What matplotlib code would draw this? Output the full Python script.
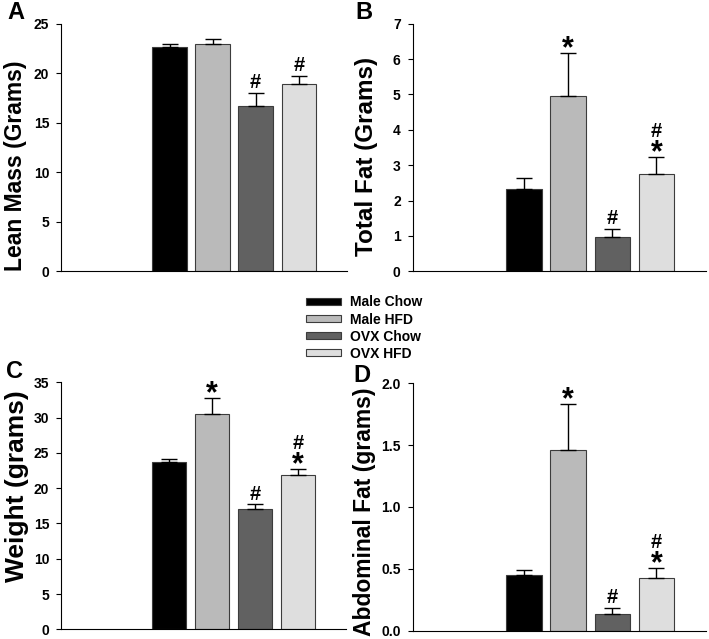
import matplotlib.pyplot as plt
from matplotlib.patches import Patch
import numpy as np

plt.rcParams['font.family'] = ['Liberation Sans', 'DejaVu Sans']
plt.rcParams['font.weight'] = 'bold'

groups = ['Male Chow', 'Male HFD', 'OVX Chow', 'OVX HFD']
colors = ['#000000', '#bababa', '#616161', '#dedede']

lean_mean = [22.6, 22.95, 16.7, 18.9]
lean_err = [0.3, 0.5, 1.27, 0.85]
lean_sig = ['', '', '#', '#']

fat_mean = [2.33, 4.97, 0.96, 2.74]
fat_err = [0.32, 1.19, 0.23, 0.5]
fat_sig = ['', '*', '#', '#*']

weight_mean = [23.7, 30.5, 17.0, 21.9]
weight_err = [0.4, 2.3, 0.7, 0.85]
weight_sig = ['', '*', '#', '#*']

abd_mean = [0.453, 1.458, 0.137, 0.423]
abd_err = [0.04, 0.375, 0.046, 0.086]
abd_sig = ['', '*', '#', '#*']

W, H = 709, 639
fig = plt.figure(figsize=(W / 100, H / 100), dpi=100)


def px_axes(left, right, top, bottom):
    ax = fig.add_axes([left / W, (H - bottom) / H, (right - left) / W, (bottom - top) / H])
    ax.px = (left, right, top, bottom)
    return ax


def star(ax, xi, top):
    ax.annotate('*', (xi, top), xytext=(0, -3), textcoords='offset points',
                ha='center', va='baseline', fontsize=22)


def hash_(ax, xi, top, off):
    ax.annotate('#', (xi, top), xytext=(0, off), textcoords='offset points',
                ha='center', va='baseline', fontsize=14.5)


def panel(ax, mean, err, sig, ylabel, ymax, step, fmt, lab_size, lab_x, lab_cy):
    x = np.arange(len(mean))
    ax.bar(x, mean, width=0.8, color=colors, edgecolor='#3c3c3c', linewidth=0.8, zorder=2)
    ax.errorbar(x, mean, yerr=[np.zeros(len(err)), err], fmt='none', ecolor='black',
                elinewidth=1, capsize=5.5, capthick=1, zorder=3)
    for xi, m, e, s in zip(x, mean, err, sig):
        top = m + e
        if s == '#':
            hash_(ax, xi, top, 3.5)
        elif s == '*':
            star(ax, xi, top)
        elif s == '#*':
            star(ax, xi, top)
            hash_(ax, xi, top, 14.5)
    ax.set_xlim(-2.52, 4.12)
    ax.set_ylim(0, ymax)
    ax.set_yticks(np.arange(0, ymax + step / 2, step))
    ax.yaxis.set_major_formatter(plt.FormatStrFormatter(fmt))
    ax.set_xticks([])
    for sp in ['top', 'right']:
        ax.spines[sp].set_visible(False)
    for sp in ['left', 'bottom']:
        ax.spines[sp].set_linewidth(0.8)
    ax.tick_params(axis='y', direction='out', length=3.5, width=0.8, pad=5, labelsize=10)
    ax.set_ylabel(ylabel, fontsize=lab_size, fontweight='bold')
    left, right, top_px, bottom = ax.px
    ax.yaxis.set_label_coords((lab_x - left) / (right - left),
                              (bottom - lab_cy) / (bottom - top_px))


axA = px_axes(61, 347, 23.7, 271.3)
axB = px_axes(412.5, 706, 23.7, 271.3)
axC = px_axes(61, 346, 382.3, 629.3)
axD = px_axes(412.5, 706, 383.3, 630.7)

panel(axA, lean_mean, lean_err, lean_sig, 'Lean Mass (Grams)', 25, 5, '%d', 16.5, 27, 166)
panel(axB, fat_mean, fat_err, fat_sig, 'Total Fat (Grams)', 7, 1, '%d', 17.5, 378, 156)
panel(axC, weight_mean, weight_err, weight_sig, 'Weight (grams)', 35, 5, '%d', 19, 29, 486)
panel(axD, abd_mean, abd_err, abd_sig, 'Abdominal Fat (grams)', 2.0, 0.5, '%.1f', 16.5, 376, 512)

letters = ['A', 'B', 'C', 'D']
letter_x = [7, 355, 6, 353]
letter_y = [12.5, 12.5, 371.5, 376]
for t, lx, ly in zip(letters, letter_x, letter_y):
    fig.text(lx / W, (H - ly) / H, t, fontsize=17, fontweight='bold', ha='left', va='center')

handles = [Patch(facecolor=c, edgecolor='#3c3c3c', linewidth=0.8) for c in colors]
fig.legend(handles, groups, loc='upper left', bbox_to_anchor=(306 / W, (H - 295.5) / H),
           frameon=False, handlelength=2.5, handleheight=0.43,
           handletextpad=0.65, labelspacing=0.22, borderpad=0, borderaxespad=0,
           prop={'weight': 'bold', 'size': 10})

fig.savefig('out.png', dpi=100)
